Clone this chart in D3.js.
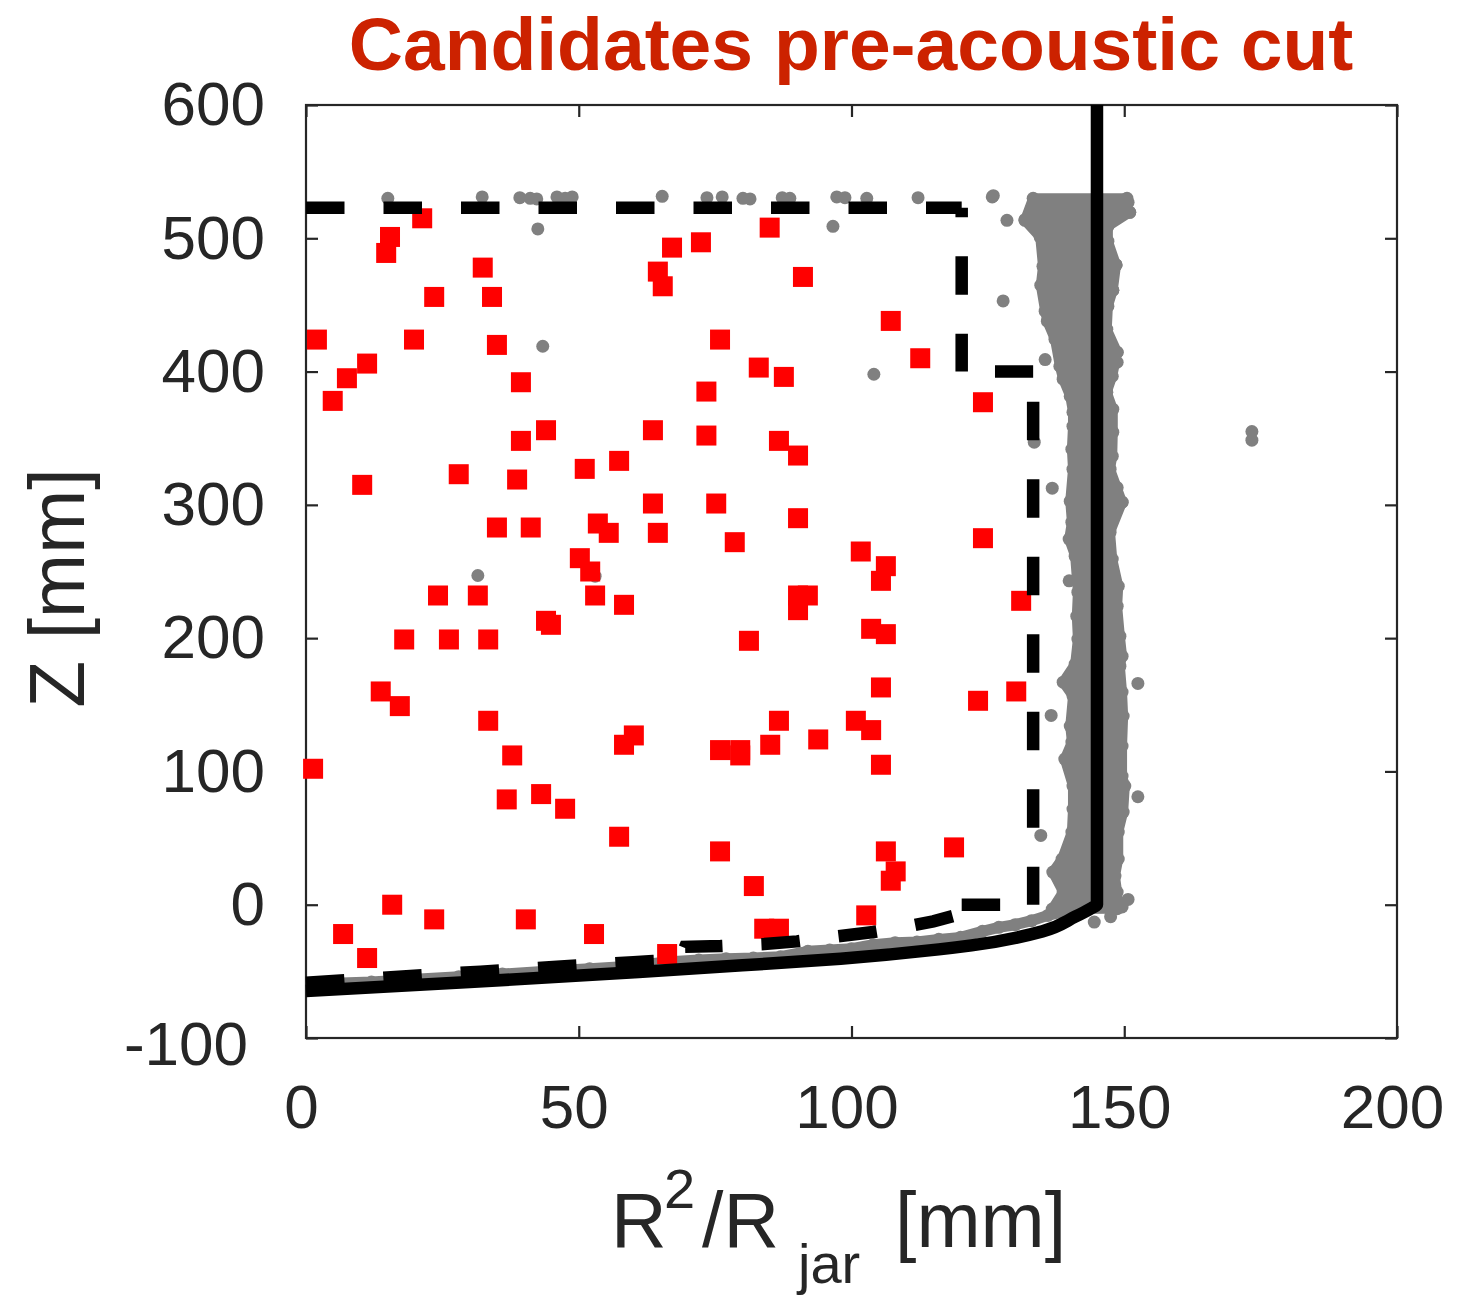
<!DOCTYPE html>
<html>
<head>
<meta charset="utf-8">
<script src="https://cdn.jsdelivr.net/npm/d3@7"></script>
<style>
  body { margin: 0; background: #fff; }
  svg { display: block; font-family: "Liberation Sans", Arial, Helvetica, sans-serif; }
</style>
</head>
<body>
<div id="chart"></div>
<script>
/////////////////////////Data////////////////////////////

// axis ticks
let xTicks = [0, 50, 100, 150, 200];
let yTicks = [-100, 0, 100, 200, 300, 400, 500, 600];

// candidate events (red squares): R^2/Rjar and Z
let redR = [21.3, 15.4, 14.7, 23.5, 32.4, 34.1, 2.0, 19.8, 35.0, 11.2, 7.5, 4.9, 39.4, 39.4, 44.0,
  10.3, 28.0, 38.7, 35.0, 41.2, 51.1, 57.4, 63.6, 63.6, 53.5, 55.5, 64.5, 50.2, 52.1, 53.0,
  58.3, 24.2, 31.5, 18.0, 26.2, 33.4, 44.0, 44.9, 13.7, 17.2, 33.4, 37.8, 36.8, 43.1, 47.5,
  1.3, 57.4, 58.3, 60.1, 75.9, 82.1, 75.9, 79.6, 79.6, 85.1, 86.7, 93.9, 100.8, 103.6, 105.4,
  105.4, 106.3, 103.6, 101.7, 106.3, 105.4, 90.2, 92.0, 90.2, 81.2, 75.2, 78.6, 90.2, 90.2, 86.7,
  73.4, 73.4, 83.0, 87.6, 75.9, 91.1, 85.0, 72.4, 67.1, 64.5, 65.4, 107.2, 112.6, 124.1, 124.1,
  131.1, 123.2, 130.2, 118.8, 106.3, 108.1, 107.2, 102.7, 84.0, 86.7, 66.2, 52.8, 40.3, 23.5, 15.8,
  6.8, 11.2];
let redZ = [515, 501, 489, 456, 478, 456, 424, 424, 420, 406, 395, 378, 392, 348, 356,
  315, 323, 319, 283, 283, 327, 333, 356, 301, 286, 279, 279, 260, 250, 232,
  225, 232, 232, 199, 199, 199, 213, 210, 160, 149, 138, 112, 79, 83, 72,
  102, 51, 120, 127, 40, 14, 116, 116, 112, 120, 138, 124, 138, 131, 105,
  163, 203, 207, 265, 254, 243, 232, 232, 221, 198, 301, 272, 290, 337, 348,
  352, 385, 403, 396, 424, 471, 508, 497, 493, 475, 464, 438, 410, 377, 275,
  228, 153, 160, 43, 40, 25, 18, -8, -18, -18, -37, -22, -11, -11, 0,
  -22, -40];

// scattered background events (grey dots)
let grayR = [15.0, 32.3, 39.2, 41.1, 42.3, 46.0, 47.5, 48.8, 65.3, 73.5, 76.3, 80.1, 81.4, 87.3,
  88.7, 97.3, 98.8, 102.8, 112.2, 125.8, 42.5, 43.4, 96.6, 104.1, 127.8, 128.5, 135.5, 133.5,
  136.8, 139.9, 136.6, 134.7, 152.5, 152.5, 150.7, 31.5, 53.0, 173.4, 173.4, 150.7, 151.0, 148.5,
  147.9, 148.7, 148.7, 148.7, 149.6, 149.8, 149.6, 126.0, 131.8, 147.5, 144.5];
let grayZ = [530, 531, 530.5, 530, 529.5, 531, 530, 531, 531.5, 530.5, 531, 530, 529.5, 530.5,
  530, 531, 530.5, 530, 530.5, 531, 507, 419, 509, 398, 453, 513.5, 409, 347,
  312.5, 243, 142, 52, 166, 81, 4, 247, 246.5, 355, 348.5, 527, 519.5, 480,
  461, 414.5, 407, 313, 302, 90.5, -1.7, 532, 514, -9, -13];

// dense wall band of grey events: outermost dot centres on the left and right side
let bandLeftZ = [-3.3, 9.5, 24.5, 34.3, 54.5, 71.8, 89, 109.3, 122, 134, 156.5, 167, 180.5, 199.3,
  216.5, 234.5, 261.5, 274.3, 287, 302.8, 326.8, 341.8, 359, 369.5, 381.5, 394.3, 404, 424.3,
  437.8, 445.3, 464.8, 479, 500.8, 513.5, 530];
let bandLeftR = [136.8, 138.8, 136.9, 138.6, 140.4, 140.6, 140.6, 139.1, 140.4, 140.1, 140.6, 138.8,
  141.0, 141.5, 141.3, 141.5, 141.0, 139.9, 140.4, 140.1, 140.6, 140.4, 140.6, 140.6, 140.1, 138.8,
  138.2, 137.3, 135.9, 135.5, 134.7, 135.1, 134.6, 131.8, 133.3];
let bandRightZ = [-3, 9.5, 21.5, 34.3, 54.5, 69.5, 89, 96.5, 119, 141.5, 159.5, 179, 186.5, 201.5,
  224, 239, 259.3, 279.5, 302, 326.8, 336.5, 354.5, 371.8, 384.5, 396.5, 414.5, 431.8, 449, 461,
  480, 497.8, 509, 519.5, 526.3, 530];
let bandRightR = [148.7, 148.7, 148.3, 148.9, 148.9, 149.8, 150.1, 149.6, 149.6, 149.8, 149.6, 149.2,
  149.6, 149.2, 148.7, 148.9, 147.8, 147.4, 149.6, 147.4, 147.8, 147.9, 147.9, 146.8, 147.8, 148.7,
  146.8, 147.0, 147.9, 148.5, 147.0, 147.0, 151.0, 149.8, 150.5];

// grey events along the jar bottom
let bottomR = [5, 12, 20, 28, 36, 44, 52, 60, 66, 72, 77, 82, 87, 92, 96, 100, 104, 108, 112, 116,
  120, 124, 127, 130, 133, 136, 139, 142];
let bottomZ = [-59, -58, -56, -54, -52, -50, -48, -46, -43, -41.5, -40.5, -40, -39, -35, -34, -33,
  -30, -28.5, -28, -26, -24.5, -20, -17, -15, -12, -8, -5, -2];

// jar wall (solid line), top to bottom
let jarR = [145, 145, 144, 141, 135, 122, 116, 98, 80, 61, 30, 0];
let jarZ = [600, 0, -2.5, -9, -20, -30.5, -33.5, -40.5, -45.5, -50.5, -58, -64.7];

// fiducial cut (dashed line): upper part and bottom part
let cutR = [0, 120.2, 120.2, 133.3, 133.3, 120.2];
let cutZ = [523, 523, 400, 400, 0, 0];
let cutBottomR = [0, 17, 32, 46, 60, 63.6, 68.5, 69.5, 76, 84, 90, 97, 104, 110, 115, 119.5];
let cutBottomZ = [-58.5, -54, -50.2, -46.5, -43.2, -42.2, -41.5, -31.6, -31, -29.5, -27.5, -24, -20.5, -16.5, -12.5, -7.5];

/////////////////////////Set Up Chart////////////////////////////

let svgWidth = 1463;
let svgHeight = 1295;

let margin = { top: 105, right: 66, bottom: 257, left: 306 };
let width = svgWidth - margin.left - margin.right;
let height = svgHeight - margin.top - margin.bottom;

let svg = d3.select("#chart")
  .append("svg")
  .attr("width", svgWidth)
  .attr("height", svgHeight);

let chartGroup = svg.append("g")
  .attr("transform", `translate(${margin.left}, ${margin.top})`);

let xScale = d3.scaleLinear().domain([0, 200]).range([0, width]);
let yScale = d3.scaleLinear().domain([-100, 600]).range([height, 0]);

let axisColor = "#262626";

// box
chartGroup.append("rect")
  .attr("width", width)
  .attr("height", height)
  .attr("fill", "none")
  .attr("stroke", axisColor)
  .attr("stroke-width", 2.2);

// Axes with inward ticks
function styleAxis(g) {
  g.select(".domain").remove();
  g.selectAll(".tick line").attr("stroke", axisColor).attr("stroke-width", 2.2);
  g.selectAll(".tick text").attr("fill", axisColor).attr("font-size", 62);
}

chartGroup.append("g")
  .attr("transform", `translate(0, ${height})`)
  .call(d3.axisBottom(xScale).tickValues(xTicks).tickSize(-12).tickPadding(46))
  .call(styleAxis)
  .selectAll(".tick text")
  .attr("transform", "translate(-5, 0)");

chartGroup.append("g")
  .call(d3.axisTop(xScale).tickValues(xTicks).tickSize(-12).tickFormat(""))
  .call(styleAxis);

let yAxis = chartGroup.append("g")
  .call(d3.axisLeft(yScale).tickValues(yTicks).tickSize(-12).tickPadding(41)
    .tickFormat(d => d < 0 ? "-" + Math.abs(d) : d))
  .call(styleAxis);

// the -100 label sits a little lower and further left in the original
yAxis.selectAll(".tick text")
  .filter(d => d === -100)
  .attr("transform", "translate(-17, 7)");

chartGroup.append("g")
  .attr("transform", `translate(${width}, 0)`)
  .call(d3.axisRight(yScale).tickValues(yTicks).tickSize(-12).tickFormat(""))
  .call(styleAxis);

/////////////////////////Marks////////////////////////////

let grey = "#808080";
let dotR = 6.5;

// dense band along the wall: outline goes up the left side and down the right side
let leftEdge = bandLeftZ.map((z, i) => ({ r: bandLeftR[i], z: z }));
let rightEdge = bandRightZ.map((z, i) => ({ r: bandRightR[i], z: z }));
let outline = leftEdge.concat(rightEdge.slice().reverse());

let pointLine = d3.line().x(d => xScale(d.r)).y(d => yScale(d.z));

chartGroup.append("path")
  .attr("fill", grey)
  .attr("stroke", grey)
  .attr("stroke-width", 2 * dotR - 3)
  .attr("stroke-linejoin", "round")
  .attr("d", pointLine(outline) + "Z");

let bottomDots = bottomR.map((r, i) => ({ r: r, z: bottomZ[i] }));
let looseDots = grayR.map((r, i) => ({ r: r, z: grayZ[i] }));

// bottom strip joining dots
chartGroup.append("path")
  .datum(bottomDots)
  .attr("fill", "none")
  .attr("stroke", grey)
  .attr("stroke-width", 2 * dotR - 2)
  .attr("stroke-linejoin", "round")
  .attr("d", pointLine);

chartGroup.append("g")
  .selectAll("circle")
  .data(outline.concat(bottomDots, looseDots))
  .enter()
  .append("circle")
  .attr("cx", d => xScale(d.r))
  .attr("cy", d => yScale(d.z))
  .attr("r", dotR)
  .attr("fill", grey);

// candidates
let sq = 20;
chartGroup.append("g")
  .selectAll("rect")
  .data(redR.map((r, i) => ({ r: r, z: redZ[i] })))
  .enter()
  .append("rect")
  .attr("x", d => xScale(d.r) - sq / 2)
  .attr("y", d => yScale(d.z) - sq / 2)
  .attr("width", sq)
  .attr("height", sq)
  .attr("fill", "#ff0000");

// fiducial cut, one dashed piece per side so the dash phase follows the original
let dash = "38.5 39";
let cutOffsets = [0, 28.8, 44.2, 47.3, 44.5];
let cutGroup = chartGroup.append("g")
  .attr("fill", "none")
  .attr("stroke", "black")
  .attr("stroke-width", 12.5)
  .attr("stroke-dasharray", dash);

cutOffsets.forEach((off, i) => {
  cutGroup.append("line")
    .attr("x1", xScale(cutR[i]))
    .attr("y1", yScale(cutZ[i]))
    .attr("x2", xScale(cutR[i + 1]))
    .attr("y2", yScale(cutZ[i + 1]))
    .attr("stroke-dashoffset", off);
});

cutGroup.append("path")
  .datum(cutBottomR.map((r, i) => ({ r: r, z: cutBottomZ[i] })))
  .attr("d", pointLine);

// jar wall
chartGroup.append("path")
  .datum(jarR.map((r, i) => ({ r: r, z: jarZ[i] })))
  .attr("fill", "none")
  .attr("stroke", "black")
  .attr("stroke-width", 12.5)
  .attr("d", d3.line().x(d => xScale(d.r)).y(d => yScale(d.z)).curve(d3.curveMonotoneY));

/////////////////////////Labels////////////////////////////

svg.append("text")
  .attr("x", 851)
  .attr("y", 70)
  .attr("text-anchor", "middle")
  .attr("font-size", 75)
  .attr("font-weight", "bold")
  .attr("fill", "#cc2200")
  .text("Candidates pre-acoustic cut");

svg.append("text")
  .attr("transform", "translate(84, 588) rotate(-90)")
  .attr("text-anchor", "middle")
  .attr("font-size", 77)
  .attr("fill", axisColor)
  .text("Z [mm]");

let xLabel = svg.append("text")
  .attr("fill", axisColor)
  .attr("font-size", 77);
xLabel.append("tspan").attr("x", 611).attr("y", 1247).text("R");
xLabel.append("tspan").attr("x", 664).attr("y", 1208).attr("font-size", 56).text("2");
xLabel.append("tspan").attr("x", 702).attr("y", 1247).text("/R");
xLabel.append("tspan").attr("x", 798).attr("y", 1283).attr("font-size", 56).text("jar");
xLabel.append("tspan").attr("x", 895).attr("y", 1247).text("[mm]");
</script>
</body>
</html>
